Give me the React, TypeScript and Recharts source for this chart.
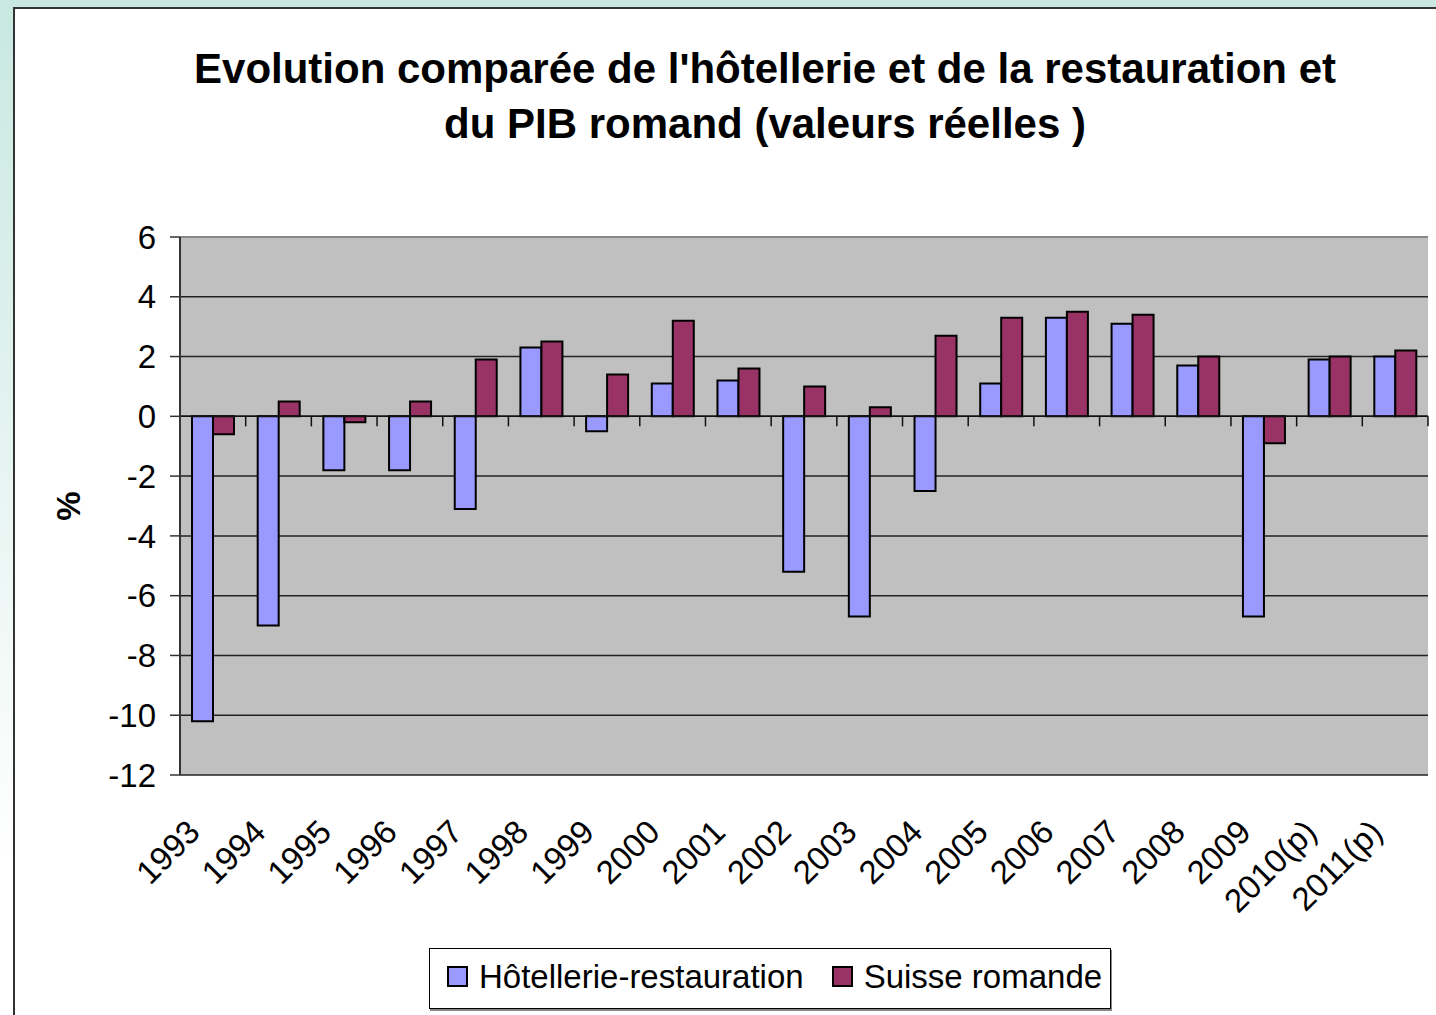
import React from "react"
import { BarChart, Bar, XAxis, YAxis, CartesianGrid, ReferenceLine, Legend } from "recharts"

const years = [
  "1993", "1994", "1995", "1996", "1997", "1998", "1999", "2000", "2001", "2002",
  "2003", "2004", "2005", "2006", "2007", "2008", "2009", "2010(p)", "2011(p)",
]
const hotellerie = [-10.2, -7.0, -1.8, -1.8, -3.1, 2.3, -0.5, 1.1, 1.2, -5.2, -6.7, -2.5, 1.1, 3.3, 3.1, 1.7, -6.7, 1.9, 2.0]
const suisseRomande = [-0.6, 0.5, -0.2, 0.5, 1.9, 2.5, 1.4, 3.2, 1.6, 1.0, 0.3, 2.7, 3.3, 3.5, 3.4, 2.0, -0.9, 2.0, 2.2]
const yTicks = [-12, -10, -8, -6, -4, -2, 0, 2, 4, 6]

const data = years.map((year, i) => ({
  year,
  hotellerie: hotellerie[i],
  romande: suisseRomande[i],
}))

const FONT = "'Liberation Sans', Arial, sans-serif"
const BLUE = "#9999FF"
const MAROON = "#993366"

// zero line with the category tick marks hanging below it (Excel style)
const ZeroAxis = (props: any) => {
  const { x1, x2, y1 } = props
  const step = (x2 - x1) / years.length
  return (
    <g>
      <line x1={x1} x2={x2} y1={y1} y2={y1} stroke="#111" strokeWidth={1.5} />
      {[...years, ""].map((_, i) => (
        <line
          key={i}
          x1={x1 + i * step}
          x2={x1 + i * step}
          y1={y1}
          y2={y1 + 10}
          stroke="#111"
          strokeWidth={1.5}
        />
      ))}
    </g>
  )
}

const YearTick = ({ x, y, payload }: any) => (
  <text
    transform={`translate(${x - 11},${y + 57}) rotate(-45)`}
    textAnchor="end"
    fontSize={33}
    fontFamily={FONT}
    fill="#000"
  >
    {payload.value}
  </text>
)

const LegendBox = ({ payload }: any) => (
  <div
    style={{
      boxSizing: "border-box",
      width: 682,
      height: 61,
      border: "1.5px solid #000",
      boxShadow: "1px 2px 0 #888",
      background: "#fff",
      display: "flex",
      alignItems: "center",
      paddingLeft: 17,
      paddingBottom: 4,
      fontFamily: FONT,
      fontSize: 33,
      color: "#000",
    }}
  >
    {(payload || []).map((entry: any, i: number) => (
      <div key={i} style={{ display: "flex", alignItems: "center", marginRight: i === 0 ? 28 : 0 }}>
        <span
          style={{
            boxSizing: "border-box",
            display: "inline-block",
            width: 21,
            height: 21,
            background: entry.color,
            border: "2px solid #000",
            marginRight: 11,
          }}
        />
        <span>{entry.value}</span>
      </div>
    ))}
  </div>
)

export default function App() {
  return (
    <div
      style={{
        position: "absolute",
        left: 0,
        top: 0,
        width: 1436,
        height: 1015,
        overflow: "hidden",
        background: "linear-gradient(to bottom, #c8e8e0 0%, #e6f4f1 45%, #ffffff 85%)",
      }}
    >
      <div
        style={{
          position: "absolute",
          left: 13,
          top: 7,
          width: 1440,
          height: 1020,
          background: "#fff",
          borderLeft: "2px solid #333",
          borderTop: "2px solid #333",
        }}
      />
      <div
        style={{
          position: "absolute",
          left: 165,
          top: 41,
          width: 1200,
          textAlign: "center",
          fontFamily: FONT,
          fontWeight: "bold",
          fontSize: 42,
          lineHeight: "55px",
          color: "#000",
        }}
      >
        Evolution comparée de l'hôtellerie et de la restauration et
        <br />
        du PIB romand (valeurs réelles )
      </div>
      <div style={{ position: "absolute", left: 0, top: 0 }}>
        <BarChart
          width={1436}
          height={1015}
          data={data}
          barGap={0}
          barSize={21}
          margin={{ top: 237, right: 8, bottom: 49, left: 0 }}
        >
          <CartesianGrid fill="#C0C0C0" vertical={false} stroke="#222" strokeWidth={1.5} />
          <XAxis
            dataKey="year"
            interval={0}
            height={130}
            axisLine={false}
            tickLine={false}
            tickSize={0}
            tick={<YearTick />}
          />
          <YAxis
            domain={[-12, 6]}
            ticks={yTicks}
            width={180}
            interval={0}
            tickSize={10}
            tickMargin={14}
            tickLine={{ stroke: "#333", strokeWidth: 1.5 }}
            axisLine={{ stroke: "#333", strokeWidth: 2 }}
            tick={{ fontSize: 33, fontFamily: FONT, fill: "#000" }}
            label={{
              content: ({ viewBox }: any) => (
                <text
                  transform={`translate(${viewBox.x + 68},${viewBox.y + viewBox.height / 2}) rotate(-90)`}
                  textAnchor="middle"
                  dominantBaseline="central"
                  fontSize={33}
                  fontWeight="bold"
                  fontFamily={FONT}
                  fill="#000"
                >
                  %
                </text>
              ),
            }}
          />
          <YAxis
            yAxisId="frame"
            orientation="right"
            width={0}
            domain={[-12, 6]}
            tick={false}
            tickLine={false}
            axisLine={{ stroke: "#888", strokeWidth: 2 }}
          />
          <ReferenceLine y={6} stroke="#888" strokeWidth={2} />
          <ReferenceLine y={0} shape={<ZeroAxis />} />
          <Bar
            dataKey="hotellerie"
            name="Hôtellerie-restauration"
            fill={BLUE}
            stroke="#000"
            strokeWidth={2}
            isAnimationActive={false}
          />
          <Bar
            dataKey="romande"
            name="Suisse romande"
            fill={MAROON}
            stroke="#000"
            strokeWidth={2}
            isAnimationActive={false}
          />
          <Legend
            content={<LegendBox />}
            wrapperStyle={{ position: "absolute", left: 429, top: 948, width: 682, height: 61 }}
          />
        </BarChart>
      </div>
    </div>
  )
}
